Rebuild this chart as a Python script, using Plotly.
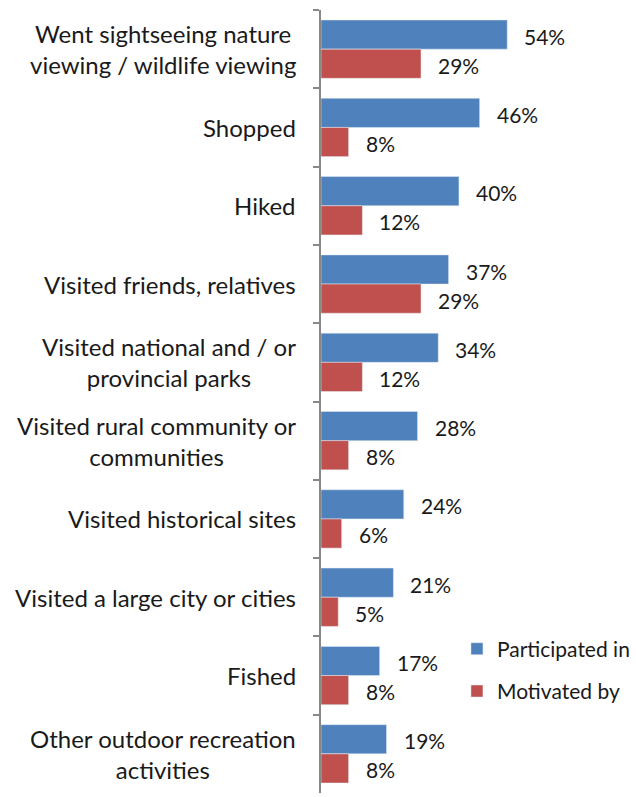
import plotly.graph_objects as go

categories = [
    "Went sightseeing nature<br>viewing / wildlife viewing",
    "Shopped",
    "Hiked",
    "Visited friends, relatives",
    "Visited national and / or<br>provincial parks",
    "Visited rural community or<br>communities",
    "Visited historical sites",
    "Visited a large city or cities",
    "Fished",
    "Other outdoor recreation<br>activities",
]
participated = [54, 46, 40, 37, 34, 28, 24, 21, 17, 19]
motivated = [29, 8, 12, 29, 12, 8, 6, 5, 8, 8]
series_names = ["Participated in", "Motivated by"]

BLUE = "#4F81BD"
RED = "#C0504D"
FONT = "Lato"
TXT = "#1a1a1a"

fig = go.Figure()
fig.add_trace(go.Bar(y=categories, x=participated, orientation="h", name=series_names[0],
                     marker=dict(color=BLUE), legendgroup="a", hoverinfo="skip"))
fig.add_trace(go.Bar(y=categories, x=motivated, orientation="h", name=series_names[1],
                     marker=dict(color=RED), legendgroup="b", hoverinfo="skip"))

annotations = []
for cat, p, m in zip(categories, participated, motivated):
    annotations.append(dict(x=p, y=cat, xref="x", yref="y", text=f"{p}%", showarrow=False,
                            xanchor="left", yanchor="middle", xshift=15, yshift=13,
                            font=dict(family=FONT, size=21, color=TXT)))
    annotations.append(dict(x=m, y=cat, xref="x", yref="y", text=f"{m}%", showarrow=False,
                            xanchor="left", yanchor="middle", xshift=15, yshift=-16,
                            font=dict(family=FONT, size=21, color=TXT)))
    annotations.append(dict(x=0, y=cat, xref="paper", yref="y", text=cat, showarrow=False,
                            xanchor="right", yanchor="middle", xshift=-23, align="center",
                            font=dict(family=FONT, size=24, color=TXT)))

fig.update_layout(
    width=636, height=797,
    margin=dict(l=321, r=6, t=10, b=4, autoexpand=False),
    paper_bgcolor="white", plot_bgcolor="white",
    barmode="group", bargap=0.255, bargroupgap=0,
    xaxis=dict(range=[0, 89.6], visible=False, showgrid=False, zeroline=False),
    yaxis=dict(autorange="reversed", showticklabels=False, ticks="outside", ticklen=6,
               tickcolor="#888888", tickwidth=1.5, tickson="boundaries",
               showline=True, linecolor="#888888", linewidth=1.5, showgrid=False),
    legend=dict(x=0.44, y=0.157, xanchor="left", yanchor="middle",
                font=dict(family=FONT, size=21, color=TXT), traceorder="grouped",
                tracegroupgap=12, bgcolor="rgba(0,0,0,0)"),
    annotations=annotations,
    showlegend=True,
)

fig.write_html("out.html", config={"displayModeBar": False},
               post_script="document.body.style.margin='0';")
